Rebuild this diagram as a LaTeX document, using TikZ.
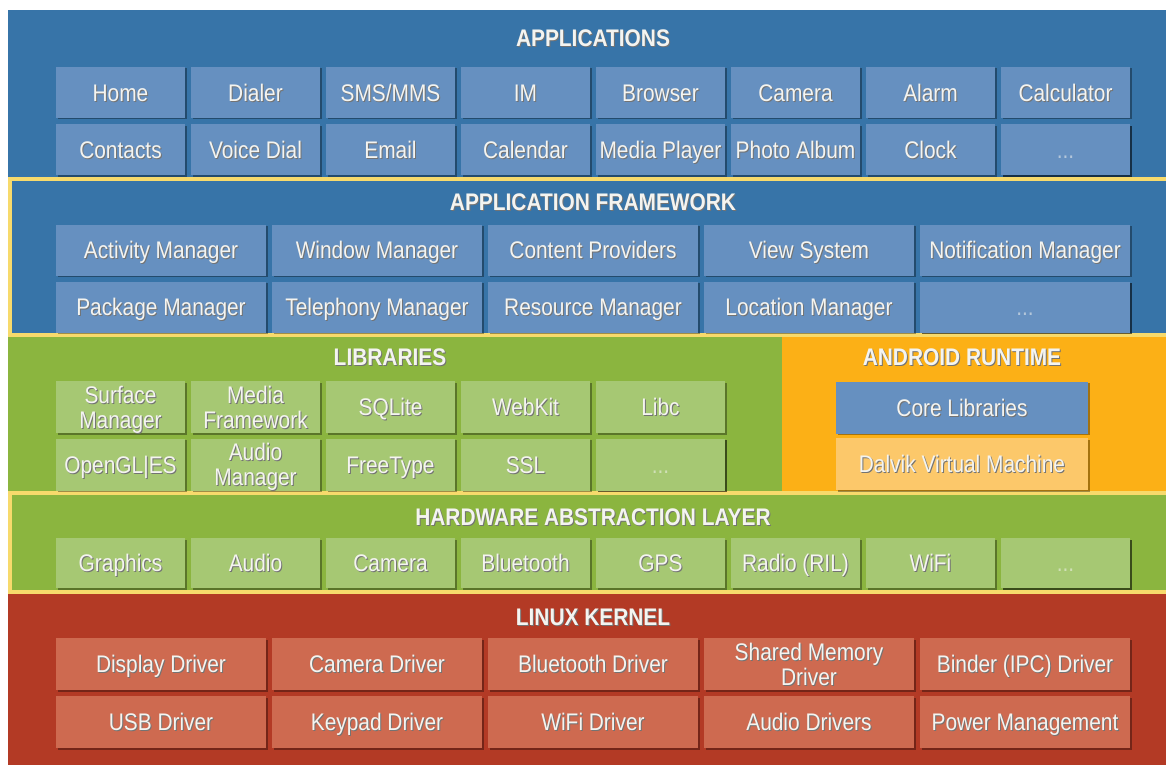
\documentclass[tikz,border=0pt]{standalone}
\usepackage{fontspec}
\setmainfont{Liberation Sans}[FakeStretch=0.87]
\usetikzlibrary{shadows}
\definecolor{layblue}{HTML}{3774A8}
\definecolor{boxblue}{HTML}{6690C0}
\definecolor{laygreen}{HTML}{8BB53F}
\definecolor{boxgreen}{HTML}{A6C873}
\definecolor{layorange}{HTML}{FCB016}
\definecolor{boxorange}{HTML}{FCC86A}
\definecolor{layred}{HTML}{B33A25}
\definecolor{boxred}{HTML}{CE6A50}
\definecolor{yelline}{HTML}{F7DA6C}
\definecolor{txt}{HTML}{F4F4F0}
\newcommand\shd[1]{\makebox[0pt][l]{\kern1pt\raisebox{-1pt}{\textcolor{black!55}{#1}}}#1}
\begin{document}
\begin{tikzpicture}[x=1pt,y=-1pt,
  box/.style={rectangle, inner sep=0pt, text=txt, align=center,
    font=\fontsize{24}{25}\selectfont, text height=17.2pt, text depth=0pt,
    drop shadow={shadow xshift=1.5pt, shadow yshift=-1.5pt, opacity=0.35, fill=black}},
  two/.style={text height=42.2pt, text depth=0pt},
  dotsbox/.style={box, text opacity=0.55},
  appbox/.style={box, fill=boxblue, minimum width=129pt, minimum height=51pt},
  fwbox/.style={box, fill=boxblue, minimum width=210pt, minimum height=51pt},
  libbox/.style={box, fill=boxgreen, minimum width=129pt, minimum height=52pt},
  halbox/.style={box, fill=boxgreen, minimum width=129pt, minimum height=50pt},
  kbox/.style={box, fill=boxred, minimum width=210pt, minimum height=52pt},
  rtbox/.style={box, minimum width=252pt, minimum height=52pt},
  title/.style={text=txt, inner sep=0pt, font=\bfseries\fontsize{24}{26}\selectfont,
    text height=17.2pt, text depth=0pt}]
\useasboundingbox (0,0) rectangle (1166,765);
% layer backgrounds
\fill[layblue] (8,10) rectangle (1166,179);
\fill[layblue] (8,179) rectangle (1166,335);
\fill[laygreen] (8,335) rectangle (782,493);
\fill[layorange] (782,335) rectangle (1166,493);
\fill[laygreen] (8,493) rectangle (1166,592);
\fill[layred] (8,592) rectangle (1166,765);
\draw[yelline, line width=4pt] (10,179) rectangle (1175,335);
\draw[yelline, line width=4pt] (10,493) rectangle (1175,592);
% titles
\node[title] (tapp) at (593,38) {\shd{APPLICATIONS}};
\node[title] (tfw) at (593,202) {\shd{APPLICATION FRAMEWORK}};
\node[title] (tlib) at (390,357) {\shd{LIBRARIES}};
\node[title] (trt) at (962,357) {\shd{ANDROID RUNTIME}};
\node[title] (thal) at (593,517) {\shd{HARDWARE ABSTRACTION LAYER}};
\node[title] (tk) at (593,617) {\shd{LINUX KERNEL}};
% applications
\foreach \t [count=\i from 0] in {Home,Dialer,SMS/MMS,IM,Browser,Camera,Alarm,Calculator}
  \node[appbox] (app1-\i) at ({120.5+135*\i},92.5) {\shd{\t}};
\foreach \t [count=\i from 0] in {Contacts,Voice Dial,Email,Calendar,Media Player,Photo Album,Clock}
  \node[appbox] (app2-\i) at ({120.5+135*\i},149.5) {\shd{\t}};
\node[appbox, dotsbox] (app2-7) at ({120.5+135*7},149.5) {...};
% framework
\foreach \t [count=\i from 0] in {Activity Manager,Window Manager,Content Providers,View System,Notification Manager}
  \node[fwbox] (fw1-\i) at ({161+216*\i},250) {\shd{\t}};
\foreach \t [count=\i from 0] in {Package Manager,Telephony Manager,Resource Manager,Location Manager}
  \node[fwbox] (fw2-\i) at ({161+216*\i},307) {\shd{\t}};
\node[fwbox, dotsbox] (fw2-4) at ({161+216*4},307) {...};
% libraries
\node[libbox, two] (lib1-0) at (120.5,407) {\shd{Surface}\\\shd{Manager}};
\node[libbox, two] (lib1-1) at (255.5,407) {\shd{Media}\\\shd{Framework}};
\foreach \t [count=\i from 2] in {SQLite,WebKit,Libc}
  \node[libbox] (lib1-\i) at ({120.5+135*\i},407) {\shd{\t}};
\node[libbox] (lib2-0) at (120.5,464.5) {\shd{OpenGL|ES}};
\node[libbox, two] (lib2-1) at (255.5,464.5) {\shd{Audio}\\\shd{Manager}};
\foreach \t [count=\i from 2] in {FreeType,SSL}
  \node[libbox] (lib2-\i) at ({120.5+135*\i},464.5) {\shd{\t}};
\node[libbox, dotsbox] (lib2-4) at ({120.5+135*4},464.5) {...};
% android runtime
\node[rtbox, fill=boxblue] (core) at (962,407.5) {\shd{Core Libraries}};
\node[rtbox, fill=boxorange] (dalvik) at (962,464) {\shd{Dalvik Virtual Machine}};
% HAL
\foreach \t [count=\i from 0] in {Graphics,Audio,Camera,Bluetooth,GPS,Radio (RIL),WiFi}
  \node[halbox] (hal-\i) at ({120.5+135*\i},563) {\shd{\t}};
\node[halbox, dotsbox] (hal-7) at ({120.5+135*7},563) {...};
% kernel
\foreach \t [count=\i from 0] in {Display Driver,Camera Driver,Bluetooth Driver}
  \node[kbox] (k1-\i) at ({161+216*\i},664) {\shd{\t}};
\node[kbox, two] (k1-3) at (809,664) {\shd{Shared Memory}\\\shd{Driver}};
\node[kbox] (k1-4) at (1025,664) {\shd{Binder (IPC) Driver}};
\foreach \t [count=\i from 0] in {USB Driver,Keypad Driver,WiFi Driver,Audio Drivers,Power Management}
  \node[kbox] (k2-\i) at ({161+216*\i},722) {\shd{\t}};
\end{tikzpicture}
\end{document}
